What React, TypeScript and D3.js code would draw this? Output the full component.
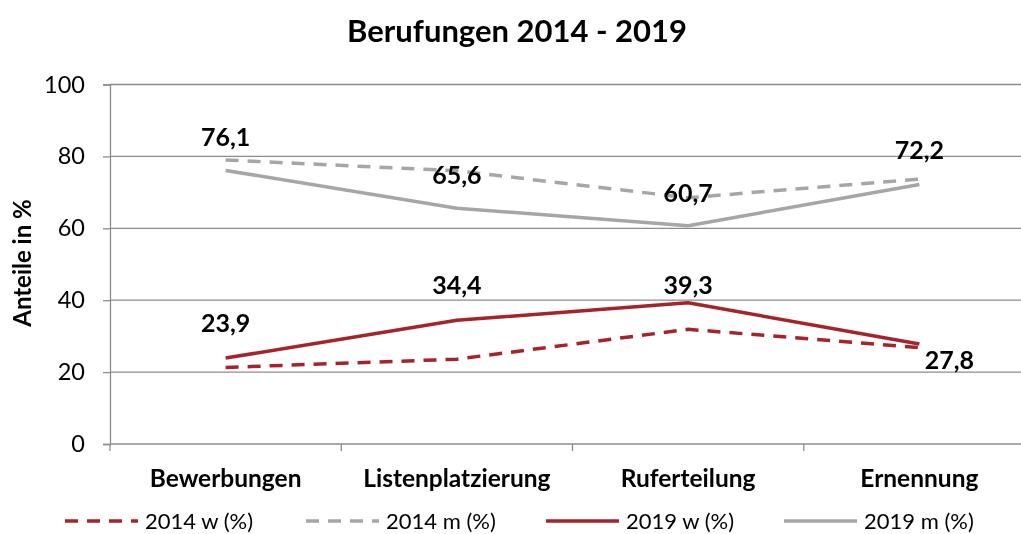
import React, { useRef, useEffect } from 'react'
import * as d3 from 'd3'

const categories = ['Bewerbungen', 'Listenplatzierung', 'Ruferteilung', 'Ernennung']
const yTicks = [0, 20, 40, 60, 80, 100]

const w2014 = [21.3, 23.6, 31.9, 26.8]
const m2014 = [79.0, 76.0, 68.5, 73.7]
const w2019 = [23.9, 34.4, 39.3, 27.8]
const m2019 = [76.1, 65.6, 60.7, 72.2]

const RED = '#A5232A'
const GRAY = '#A6A6A6'
const FONT = 'Lato, "Open Sans", sans-serif'

const series = [
  { name: '2014 w (%)', values: w2014, color: RED, dashed: true },
  { name: '2014 m (%)', values: m2014, color: GRAY, dashed: true },
  { name: '2019 w (%)', values: w2019, color: RED, dashed: false },
  { name: '2019 m (%)', values: m2019, color: GRAY, dashed: false },
]

// labels only for 2019 series, offsets like excel placed them
const labelOffsets = {
  '2019 w (%)': [[0, -35], [0, -35], [0, -17], [30, 16]],
  '2019 m (%)': [[0, -33], [0, -33], [0, -33], [0, -34]],
}

const Chart = () => {
  const ref = useRef(null)

  useEffect(() => {
    const el = ref.current
    el.innerHTML = ''
    const width = 1021
    const height = 534

    const svg = d3.select(el).append('svg')
      .attr('width', width)
      .attr('height', height)
      .style('display', 'block')
      .style('font-family', FONT)

    const x = d3.scaleBand().domain(categories).range([110, 1035])
    const y = d3.scaleLinear().domain([0, 100]).range([444, 84.5])
    const cx = (c) => x(c) + x.bandwidth() / 2

    // grid
    svg.append('g').selectAll('line')
      .data(yTicks.filter(t => t > 0))
      .enter().append('line')
      .attr('x1', 110).attr('x2', width)
      .attr('y1', d => y(d)).attr('y2', d => y(d))
      .attr('stroke', '#8C8C8C').attr('stroke-width', 1.3)

    const yAxis = svg.append('g')
      .attr('transform', 'translate(110,0)')
      .call(d3.axisLeft(y).tickValues(yTicks).tickSize(7).tickPadding(18).tickFormat(d3.format('d')))
    yAxis.select('.domain').attr('stroke', '#8C8C8C').attr('stroke-width', 1.3)
    yAxis.selectAll('line').attr('stroke', '#8C8C8C').attr('stroke-width', 1.3)
    yAxis.selectAll('text').attr('font-size', 23.5).attr('font-family', FONT).attr('fill', '#000')

    // x axis
    svg.append('line')
      .attr('x1', 110).attr('x2', width)
      .attr('y1', y(0)).attr('y2', y(0))
      .attr('stroke', '#8C8C8C').attr('stroke-width', 1.3)
    svg.append('g').selectAll('line')
      .data(categories)
      .enter().append('line')
      .attr('x1', d => x(d)).attr('x2', d => x(d))
      .attr('y1', y(0)).attr('y2', y(0) + 7)
      .attr('stroke', '#8C8C8C').attr('stroke-width', 1.3)
    svg.append('g').selectAll('text')
      .data(categories)
      .enter().append('text')
      .attr('x', d => cx(d))
      .attr('y', 478)
      .attr('dy', '0.35em')
      .attr('text-anchor', 'middle')
      .attr('font-size', 24.5)
      .attr('font-weight', 'bold')
      .text(d => d)

    // title
    svg.append('text')
      .attr('x', 517).attr('y', 31)
      .attr('dy', '0.35em')
      .attr('text-anchor', 'middle')
      .attr('font-size', 31)
      .attr('font-weight', 'bold')
      .text('Berufungen 2014 - 2019')

    svg.append('text')
      .attr('transform', 'translate(23,263) rotate(-90)')
      .attr('dy', '0.35em')
      .attr('text-anchor', 'middle')
      .attr('font-size', 24)
      .attr('font-weight', 'bold')
      .text('Anteile in %')

    const line = d3.line()
      .x((d, i) => cx(categories[i]))
      .y(d => y(d))

    series.forEach(s => {
      svg.append('path')
        .datum(s.values)
        .attr('fill', 'none')
        .attr('stroke', s.color)
        .attr('stroke-width', 3.5)
        .attr('stroke-dasharray', s.dashed ? '13,9' : null)
        .attr('stroke-linejoin', 'round')
        .attr('d', line)
    })

    Object.keys(labelOffsets).forEach(name => {
      const s = series.find(d => d.name === name)
      svg.append('g').selectAll('text')
        .data(s.values)
        .enter().append('text')
        .attr('x', (d, i) => cx(categories[i]) + labelOffsets[name][i][0])
        .attr('y', (d, i) => y(d) + labelOffsets[name][i][1])
        .attr('dy', '0.35em')
        .attr('text-anchor', 'middle')
        .attr('font-size', 25)
        .attr('font-weight', 'bold')
        .text(d => d3.format('.1f')(d).replace('.', ','))
    })

    // legend
    const legendX = [65, 306, 546, 784]
    const leg = svg.append('g').selectAll('g')
      .data(series)
      .enter().append('g')
      .attr('transform', (d, i) => `translate(${legendX[i]},521)`)
    leg.append('line')
      .attr('x1', 0).attr('x2', 73)
      .attr('stroke', d => d.color)
      .attr('stroke-width', 3.5)
      .attr('stroke-dasharray', d => d.dashed ? '13,9' : null)
    leg.append('text')
      .attr('x', 80)
      .attr('dy', '0.35em')
      .attr('font-size', 22)
      .text(d => d.name)
  }, [])

  return <div ref={ref}></div>
}

export default function App() {
  return (
    <div style={{ position: 'fixed', top: 0, left: 0 }}>
      <Chart />
    </div>
  )
}
